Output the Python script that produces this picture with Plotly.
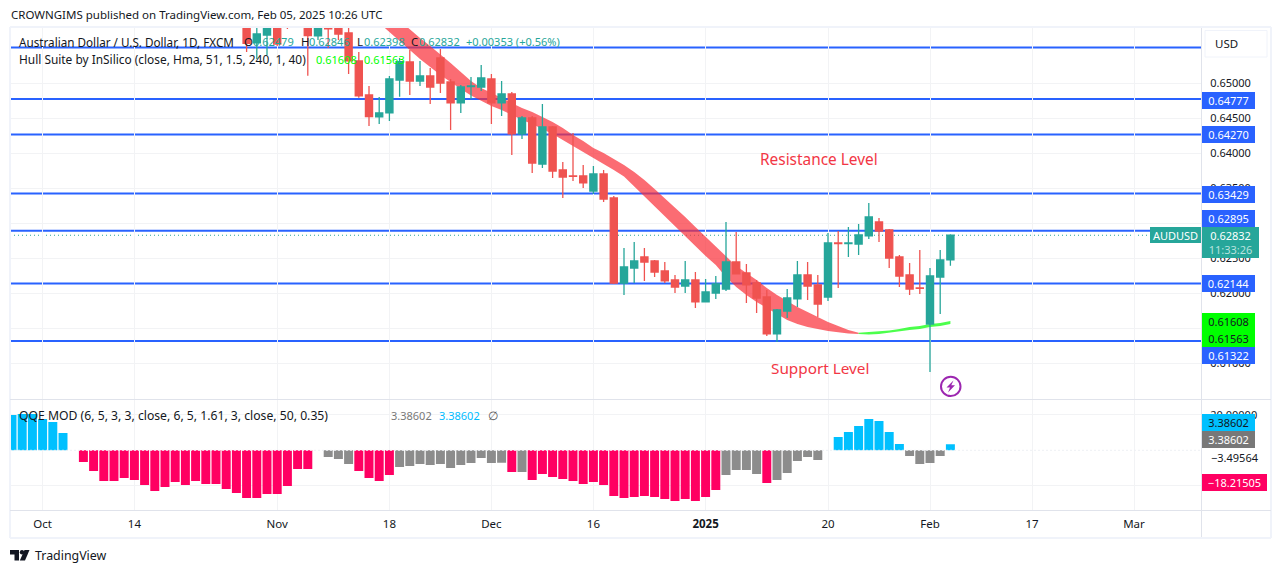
import plotly.graph_objects as go

W, H = 1281, 573
FONT = "Noto Sans"

# ---- data ----
bar_start = 20
opens = [.65907,.65579,.65693,.65850,.65907,.65822,.65850,.65679,.65850,.65850,.65722,.65322,.64836,.64522,.64579,.65050,.65307,.65036,.65107,.65364,
         .65022,.64722,.64957,.64950,.65064,.64722,.64850,.64279,.64507,.63850,.64379,.63764,.63679,.63679,.63464,.63707,.63364,.62150,.62364,.62522,
         .62464,.62322,.62193,.62107,.62193,.61879,.62007,.62064,.62450,.62293,.62150,.61950,.61422,.61750,.61922,.62264,.62122,.61950,.62722,.62714,
         .62707,.62822,.63022,.62907,.62522,.62264,.62079,.61564,.62236,.62479]
highs = [.65979,.65907,.65907,.65907,.65979,.65979,.65907,.65907,.65907,.65907,.65836,.65450,.64964,.64807,.65107,.65364,.65479,.65322,.65222,.65493,
         .65064,.64979,.65093,.65264,.65136,.65036,.64879,.64536,.64536,.64707,.64393,.63879,.64293,.63836,.63822,.63764,.63393,.62650,.62736,.62650,
         .62479,.62450,.62264,.62464,.62307,.62207,.62250,.63022,.62879,.62422,.62193,.62050,.61779,.62064,.62464,.62450,.62264,.62864,.62893,.62950,
         .62993,.63293,.63079,.62922,.62550,.62436,.62622,.62364,.62622,.62846]
lows = [.65450,.65350,.65407,.65536,.65779,.65793,.65112,.65622,.65507,.65622,.65136,.64797,.64393,.64422,.64464,.64812,.64836,.64964,.64707,.64864,
        .64336,.64579,.64779,.64893,.64422,.64536,.63979,.64207,.63722,.63793,.63650,.63364,.63607,.63507,.63422,.63307,.62136,.61979,.62150,.62179,
        .62236,.62150,.62007,.62007,.61793,.61872,.61922,.62036,.62272,.61864,.61722,.61393,.61307,.61650,.61807,.61907,.61664,.61893,.62079,.62522,
        .62550,.62779,.62736,.62364,.62093,.61979,.61993,.60879,.61707,.62398]
closes = [.65574,.65707,.65850,.65564,.65807,.65907,.65683,.65850,.65779,.65707,.65322,.64822,.64526,.64579,.65064,.65312,.65036,.65107,.64950,.65007,
          .64722,.64950,.64964,.65079,.64722,.64850,.64279,.64507,.63864,.64379,.63750,.63664,.63672,.63579,.63707,.63350,.62150,.62379,.62464,.62450,
          .62307,.62179,.62093,.62193,.61879,.62022,.62136,.62450,.62279,.62122,.61936,.61422,.61764,.61936,.62264,.62107,.61850,.62722,.62714,.62722,
          .62836,.63093,.62893,.62507,.62250,.62064,.62072,.62250,.62479,.62832]

hull_start = 33
hull_down_upper = [.66150,.66022,.65893,.65772,.65650,.65536,.65421,.65293,.65164,.65036,.64936,.64864,.64793,.64722,.64650,.64593,.64522,.64450,.64364,.64264,
                   .64179,.64079,.64007,.63922,.63836,.63736,.63622,.63493,.63364,.63236,.63093,.62950,.62807,.62664,.62522,.62393,.62293,.62193,.62079,.61979,
                   .61893,.61807,.61736,.61664,.61593,.61536,.61479,.61440]
hull_down_lower = [.65864,.65736,.65607,.65479,.65350,.65236,.65122,.65022,.64922,.64829,.64750,.64679,.64622,.64550,.64479,.64422,.64350,.64279,.64193,.64107,
                   .64022,.63936,.63850,.63764,.63672,.63536,.63393,.63250,.63107,.62964,.62822,.62679,.62536,.62407,.62236,.62093,.61979,.61879,.61793,.61707,
                   .61621,.61564,.61522,.61493,.61464,.61443,.61429,.61422]
hull_up_start = 80
hull_up_upper = [.61440,.61450,.61457,.61472,.61493,.61522,.61536,.61564,.61579,.61608]
hull_up_lower = [.61422,.61414,.61422,.61436,.61457,.61479,.61493,.61522,.61536,.61563]

levels = [0.65514, 0.64777, 0.64270, 0.63429, 0.62895, 0.62144, 0.61322]
last_close = 0.62832

qqe_start = -3
qqe = [19.9,20.5,20.5,17.6,16,9.8,0,-6.6,-11.6,-17.3,-17.3,-15.6,-16.7,-19.5,-22.9,-20.7,-17.8,-19.5,-17.3,-19,-19,-21.8,-24,-26.9,-26.9,-24.6,-24.6,
       -20.1,-10.5,-10.5,0,-3.8,-4.9,-7.7,-11.6,-15.6,-17.3,-13.9,-9.4,-8.8,-7.7,-8.3,-7.7,-10,-8.3,-7.1,-4.3,-7.1,-7,-12.2,-12.2,-16.7,-13.3,-15,-16.2,
       -17.3,-19,-17.8,-19.5,-25.7,-26.9,-26.3,-25.7,-26.3,-27.4,-28.5,-27.4,-28.5,-26.3,-22.3,-13.9,-11.1,-11.1,-13.3,-18.4,-16.7,-12.8,-6,-3.8,-5.4,0,
       7.5,10.3,13.7,17.7,16.5,10.3,3.6,-3.2,-7.7,-7.1,-3.2,3.386]
qqe_kind = list("B"*6 + "N" + "P"*23 + "N" + "G"*3 + "P"*4 + "G"*11 + "P" + "G" + "P"*19 + "G"*4 + "P" + "G"*5 + "N" + "B"*7 + "G"*4 + "B")

tick_idx = [0, 9, 23, 34, 44, 54, 65, 77, 87, 97, 107]
tick_txt = ["Oct", "14", "Nov", "18", "Dec", "16", "<b>2025</b>", "20", "Feb", "17", "Mar"]
price_ticks = [0.65, 0.645, 0.64, 0.635, 0.63, 0.625, 0.62, 0.615, 0.61]
qqe_ticks = [20, -20]

# ---- layout helpers ----
def px(x): return x / W
def py(y): return 1 - y / H

X0, SP = 42.6, 10.2
XL, XR = 10.0, 1201.0
x_range = [(XL - X0) / SP, (XR - X0) / SP]
PRICE_TOP, PRICE_BOT = 28.0, 399.5
QQE_TOP, QQE_BOT = 399.5, 510.5
price_range = [0.65 - (PRICE_BOT - 83.5) / 7000, 0.65 + (83.5 - PRICE_TOP) / 7000]
qqe_range = [-(QQE_BOT - 450.3) / 1.775, (450.3 - QQE_TOP) / 1.775]

RED, TEAL, BLUE, DARK = "#ef5350", "#26a69a", "#2962ff", "#131722"
GRID = "#f2f3f5"
SEP = "#e0e3eb"

fig = go.Figure()

# Hull band (below candles)
def band(start, upper, lower, color):
    xs = [start + k for k in range(len(upper))]
    fig.add_trace(go.Scatter(x=xs + xs[::-1], y=upper + lower[::-1], fill="toself", fillcolor=color,
                             mode="lines", line=dict(width=0), hoverinfo="skip", yaxis="y"))
band(hull_start, hull_down_upper, hull_down_lower, "rgba(250,45,55,0.7)")
band(hull_up_start, hull_up_upper, hull_up_lower, "rgba(0,255,0,0.7)")

# Candles on an overlay axis so that they sit above the band
fig.add_trace(go.Candlestick(x=[bar_start + k for k in range(len(opens))], open=opens, high=highs, low=lows, close=closes,
                             yaxis="y3", whiskerwidth=0,
                             increasing=dict(line=dict(color=TEAL, width=1.3), fillcolor=TEAL),
                             decreasing=dict(line=dict(color=RED, width=1.3), fillcolor=RED)))

# QQE histogram
kind_color = {"B": "#00c0ff", "P": "#ff0062", "G": "#8c8c8c", "N": "rgba(0,0,0,0)"}
qqe_x = [qqe_start + k for k in range(len(qqe))]
fig.add_trace(go.Bar(x=qqe_x, y=qqe, marker=dict(color=[kind_color[k] for k in qqe_kind], line=dict(width=0)),
                     width=0.88, yaxis="y2"))
fig.add_trace(go.Scatter(x=x_range, y=[0, 0], mode="lines", yaxis="y2", hoverinfo="skip",
                         line=dict(color="#eef0f4", width=1, dash="2px,2px")))

shapes = []
for lv in levels:
    shapes.append(dict(type="line", xref="x", yref="y", x0=x_range[0], x1=x_range[1], y0=lv, y1=lv,
                       line=dict(color=BLUE, width=2), layer="below"))
shapes.append(dict(type="line", xref="x", yref="y", x0=x_range[0], x1=x_range[1], y0=last_close, y1=last_close,
                   line=dict(color=TEAL, width=1, dash="1px,3px"), layer="below"))

def paper_line(x0, y0, x1, y1, color=SEP, width=1):
    shapes.append(dict(type="line", xref="paper", yref="paper", x0=px(x0), x1=px(x1), y0=py(y0), y1=py(y1),
                       line=dict(color=color, width=width), layer="above"))

# frame and separators
FR = "#f0f3fa"
paper_line(10, 27, 1271, 27, FR, 2)
paper_line(10, 538, 1271, 538, FR, 2)
paper_line(10, 27, 10, 538, FR, 2)
paper_line(1271, 27, 1271, 538, FR, 2)
paper_line(1201.5, 28, 1201.5, 537)
paper_line(10, 399.5, 1271, 399.5)
paper_line(10, 510.5, 1271, 510.5)

def pp(points):
    return "M" + " L".join(f"{px(a):.5f},{py(b):.5f}" for a, b in points) + " Z"

# USD button
shapes.append(dict(type="rect", xref="paper", yref="paper", x0=px(1205), x1=px(1267), y0=py(30.5), y1=py(57),
                   line=dict(color="#f0f3fa", width=1), fillcolor="white", layer="above"))

# lightning icon
shapes.append(dict(type="circle", xref="paper", yref="paper", x0=px(941), x1=px(960.5), y0=py(376.8), y1=py(396),
                   line=dict(color="#9c27b0", width=2), fillcolor="white", layer="above"))
shapes.append(dict(type="path", xref="paper", yref="paper",
                   path=pp([(953.5, 380.5), (946.5, 387.5), (950, 387.5), (948, 392.5), (955, 385.2), (951.3, 385.2)]),
                   fillcolor="#9c27b0", line=dict(width=0), layer="above"))

# TradingView logo
shapes.append(dict(type="path", xref="paper", yref="paper",
                   path=pp([(10, 550), (19, 550), (19, 560.5), (14.5, 560.5), (14.5, 554.5), (10, 554.5)]),
                   fillcolor=DARK, line=dict(width=0), layer="above"))
shapes.append(dict(type="circle", xref="paper", yref="paper", x0=px(19.8), x1=px(24.2), y0=py(550), y1=py(554.4),
                   fillcolor=DARK, line=dict(width=0), layer="above"))
shapes.append(dict(type="path", xref="paper", yref="paper",
                   path=pp([(24.5, 550), (29.5, 550), (25, 560.5), (19.8, 560.5)]),
                   fillcolor=DARK, line=dict(width=0), layer="above"))

ann = []
def text(t, x, y, color=DARK, size=12, anchor="left"):
    ann.append(dict(text=t, xref="paper", yref="paper", x=px(x), y=py(y), xanchor=anchor, yanchor="middle",
                    showarrow=False, font=dict(family=FONT, size=size, color=color), borderpad=0))

def tag(t, y, bg, fg="white", w=53, h=17, x=1201.8, size=11):
    ann.append(dict(text=t, xref="paper", yref="paper", x=px(x), y=py(y), xanchor="left", yanchor="middle",
                    showarrow=False, font=dict(family=FONT, size=size, color=fg), bgcolor=bg, width=w, height=h,
                    align="center", valign="middle", borderpad=0, borderwidth=0))

text("CROWNGIMS published on TradingView.com, Feb 05, 2025 10:26 UTC", 10, 14.5, size=11.5)
text("Australian Dollar / U.S. Dollar, 1D, FXCM", 18, 42, size=11.7)
text("O", 243, 42, size=11.5); text("0.62479", 252, 42, TEAL, 11)
text("H", 300, 42, size=11.5); text("0.62846", 308, 42, TEAL, 11)
text("L", 356, 42, size=11.5); text("0.62398", 363, 42, TEAL, 11)
text("C", 410, 42, size=11.5); text("0.62832", 418, 42, TEAL, 11)
text("+0.00353 (+0.56%)", 465, 42, TEAL, 11)
text("Hull Suite by InSilico (close, Hma, 51, 1.5, 240, 1, 40)", 18, 59, size=11.9)
text("0.61608", 315, 59, "#00ff00", 11); text("0.61563", 363, 59, "#00ff00", 11)
text("QQE MOD (6, 5, 3, 3, close, 6, 5, 1.61, 3, close, 50, 0.35)", 18, 415, size=12.2)
text("3.38602", 390, 415, "#787878", 11); text("3.38602", 438, 415, "#00bcff", 11); text("∅", 487, 415, "#555555")
text("Resistance Level", 759, 159, "#f23645", 15.4)
text("Support Level", 770, 368, "#f23645", 15.3)
text("TradingView", 34, 555.5, DARK, 12.4)
text("USD", 1214, 43.5, size=11.5)
text("−3.49564", 1210, 457.3, DARK, 11)

for t, y in [("0.64777", 100), ("0.64270", 135), ("0.63429", 194), ("0.62895", 218.5), ("0.62144", 283.3), ("0.61322", 355.7)]:
    tag(t, y, BLUE)
tag("0.62832<br><span style='color:#b8e2de'>11:33:26</span>", 242.2, TEAL, w=57, h=31)
tag("AUDUSD", 235.2, TEAL, x=1150, w=51, h=16)
tag("0.61608", 321.7, "#00ff00", "#131722")
tag("0.61563", 338.3, "#00ff00", "#131722")
tag("3.38602", 422.7, "#00c0ff", "#131722")
tag("3.38602", 439.3, "#787878")
tag("−18.21505", 482.3, "#ff0062", w=65)

tickfont = dict(family=FONT, size=11, color=DARK)
fig.update_layout(
    width=W, height=H, autosize=False, margin=dict(l=0, r=0, t=0, b=0),
    paper_bgcolor="white", plot_bgcolor="white", showlegend=False, barmode="overlay",
    boxgap=0.3, boxgroupgap=0, boxmode="overlay",
    shapes=shapes, annotations=ann,
    xaxis=dict(domain=[px(XL), px(XR)], range=x_range, anchor="y2", side="bottom", tickmode="array",
               tickvals=tick_idx, ticktext=tick_txt, showgrid=True, gridcolor=GRID, gridwidth=1, zeroline=False,
               ticks="outside", ticklen=3, tickcolor="rgba(0,0,0,0)", tickfont=dict(family=FONT, size=11.5, color=DARK),
               showline=False, rangeslider=dict(visible=False)),
    yaxis=dict(domain=[py(PRICE_BOT), py(PRICE_TOP)], range=price_range, side="right", anchor="x", tickmode="array",
               tickvals=price_ticks, tickformat=".5f", gridcolor=GRID, gridwidth=1, zeroline=False, ticks="outside",
               ticklen=6, tickcolor="rgba(0,0,0,0)", tickfont=tickfont, showline=False),
    yaxis3=dict(overlaying="y", range=price_range, side="right", anchor="x", visible=False),
    yaxis2=dict(domain=[py(QQE_BOT), py(QQE_TOP)], range=qqe_range, side="right", anchor="x", tickmode="array",
                tickvals=qqe_ticks, tickformat=".5f", gridcolor=GRID, gridwidth=1, zeroline=False, ticks="outside",
                ticklen=6, tickcolor="rgba(0,0,0,0)", tickfont=tickfont, showline=False),
)

fig.write_html("out.html", config=dict(displayModeBar=False, responsive=False),
               post_script="document.body.style.margin='0';document.body.style.overflow='hidden';")
